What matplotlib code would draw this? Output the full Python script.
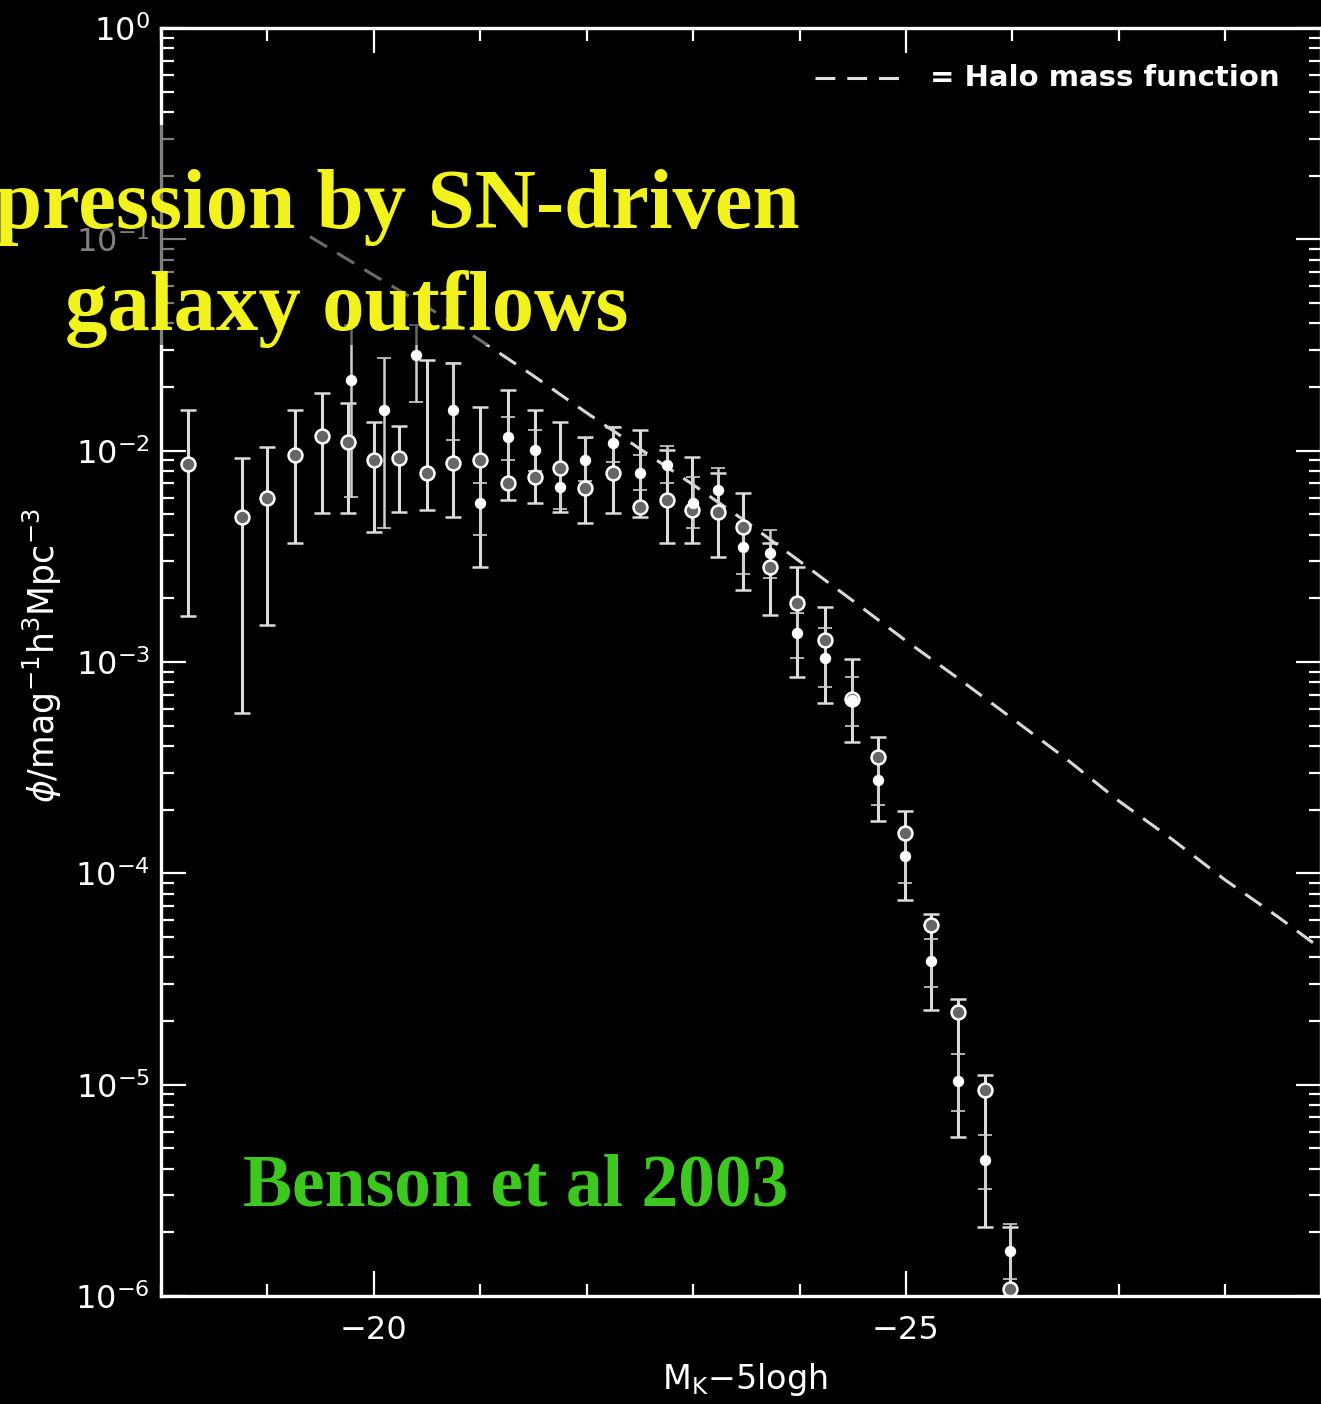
import numpy as np
import matplotlib
matplotlib.use('Agg')
import matplotlib.pyplot as plt
from matplotlib.patches import Rectangle
from matplotlib.ticker import LogLocator, MultipleLocator, NullFormatter

plt.rcParams['font.family'] = ['DejaVu Sans']
plt.rcParams['mathtext.fontset'] = 'dejavusans'

# halo mass function (dashed)
halo_mag = [-19.4, -20.0, -20.5, -21.0, -21.5, -22.0, -22.5, -23.0, -23.5, -24.0,
            -24.5, -25.0, -25.5, -26.0, -26.5, -27.0, -27.5, -28.0, -28.5, -28.9]
halo_phi = [0.103, 0.0676, 0.0479, 0.0333, 0.0226, 0.0151, 0.0102, 0.0069, 0.0046, 0.0030,
            0.00195, 0.00126, 0.00083, 0.00054, 0.00035, 0.00022, 0.000145, 0.000093, 0.000062, 0.000044]

# data set 1 (open circles)
mag1 = [-18.25, -18.76, -19.0, -19.26, -19.51, -19.76, -20.0, -20.24, -20.5, -20.74,
        -21.0, -21.26, -21.51, -21.75, -21.98, -22.25, -22.5, -22.75, -22.99, -23.23,
        -23.47, -23.72, -23.98, -24.24, -24.49, -24.74, -24.99, -25.24, -25.49, -25.74, -25.98]
phi1 = [8.65e-3, 4.85e-3, 5.97e-3, 9.53e-3, 1.17e-2, 1.10e-2, 9.03e-3, 9.23e-3, 7.83e-3, 8.73e-3,
        9.03e-3, 7.03e-3, 7.50e-3, 8.28e-3, 6.65e-3, 7.83e-3, 5.41e-3, 5.83e-3, 5.24e-3, 5.12e-3,
        4.35e-3, 2.81e-3, 1.90e-3, 1.27e-3, 6.68e-4, 3.55e-4, 1.55e-4, 5.69e-5, 2.20e-5, 9.42e-6, 1.08e-6]
hi1 = [1.56e-2, 9.23e-3, 1.04e-2, 1.56e-2, 1.87e-2, 1.68e-2, 1.36e-2, 1.31e-2, 2.69e-2, 2.60e-2,
       1.61e-2, 1.94e-2, 1.56e-2, 1.36e-2, 1.16e-2, 1.29e-2, 1.25e-2, 1.01e-2, 9.33e-3, 7.83e-3,
       6.30e-3, 3.66e-3, 2.81e-3, 1.82e-3, 1.03e-3, 4.42e-4, 1.97e-4, 6.41e-5, 2.54e-5, 1.11e-5, 2.12e-6]
lo1 = [1.65e-3, 5.73e-4, 1.50e-3, 3.66e-3, 5.07e-3, 5.07e-3, 4.12e-3, 5.12e-3, 5.24e-3, 4.85e-3,
       2.81e-3, 5.83e-3, 5.65e-3, 5.12e-3, 4.54e-3, 5.07e-3, 4.85e-3, 3.66e-3, 3.66e-3, 3.13e-3,
       2.19e-3, 1.67e-3, 8.49e-4, 6.38e-4, 4.18e-4, 1.77e-4, 7.46e-5, 2.25e-5, 5.65e-6, 2.12e-6, 5.0e-7]

# data set 2 (filled points)
mag2 = [-19.79, -20.10, -20.40, -20.74, -21.0, -21.26, -21.51, -21.75, -21.98, -22.25,
        -22.5, -22.75, -23.0, -23.23, -23.47, -23.72, -23.98, -24.24, -24.49, -24.74,
        -24.99, -25.24, -25.49, -25.74, -25.98]
phi2 = [2.16e-2, 1.56e-2, 2.83e-2, 1.56e-2, 5.65e-3, 1.16e-2, 1.01e-2, 6.73e-3, 9.03e-3, 1.09e-2,
        7.83e-3, 8.55e-3, 5.65e-3, 6.51e-3, 3.50e-3, 3.27e-3, 1.37e-3, 1.05e-3, 6.61e-4, 2.76e-4,
        1.21e-4, 3.84e-5, 1.04e-5, 4.40e-6, 1.63e-6]
hi2 = [3.93e-2, 2.74e-2, 3.93e-2, 2.60e-2, 7.0e-3, 1.45e-2, 1.25e-2, 8.5e-3, 1.15e-2, 1.3e-2,
       9.5e-3, 1.05e-2, 7.5e-3, 8.3e-3, 4.5e-3, 4.2e-3, 1.7e-3, 1.45e-3, 8.5e-4, 3.5e-4,
       1.55e-4, 4.9e-5, 1.4e-5, 5.8e-6, 2.2e-6]
lo2 = [6.03e-3, 4.30e-3, 1.70e-2, 1.12e-2, 4.0e-3, 9.0e-3, 8.0e-3, 5.3e-3, 7.2e-3, 8.8e-3,
       6.5e-3, 7.0e-3, 4.3e-3, 5.0e-3, 2.6e-3, 2.5e-3, 1.05e-3, 7.6e-4, 5.0e-4, 2.1e-4,
       9.0e-5, 2.9e-5, 7.5e-6, 3.2e-6, 1.2e-6]

W, H = 1321, 1404
fig = plt.figure(figsize=(W / 100, H / 100), dpi=100, facecolor='black')
ax = fig.add_axes([161 / W, 108 / H, (W - 161) / W, 1268 / H], facecolor='black')

ax.set_yscale('log')
ax.set_xlim(-18, -28.9)
ax.set_ylim(1e-6, 1)

ax.plot(halo_mag, halo_phi, color='#d8d8d8', lw=2.2, dashes=(6.5, 3.9))

p1 = np.array(phi1)
ax.errorbar(mag1, phi1, yerr=[p1 - np.array(lo1), np.array(hi1) - p1], fmt='o', ms=10,
            mfc='#666666', mec='white', mew=1.8, ecolor='#dcdcdc', elinewidth=2.2,
            capsize=6, capthick=2.2)
p2 = np.array(phi2)
ax.errorbar(mag2, phi2, yerr=[p2 - np.array(lo2), np.array(hi2) - p2], fmt='o', ms=7,
            mfc='white', mec='white', mew=1.2, ecolor='#cfcfcf', elinewidth=1.8,
            capsize=5, capthick=1.8)

for s in ax.spines.values():
    s.set_color('white')
    s.set_linewidth(2.4)

ax.xaxis.set_major_locator(MultipleLocator(5))
ax.xaxis.set_minor_locator(MultipleLocator(1))
ax.yaxis.set_major_locator(LogLocator(base=10, numticks=20))
ax.yaxis.set_minor_locator(LogLocator(base=10, subs=np.arange(2, 10), numticks=20))
ax.yaxis.set_minor_formatter(NullFormatter())
ax.tick_params(which='both', direction='in', top=True, right=True, colors='white',
               labelsize=23, width=1.6)
ax.tick_params(which='major', length=18)
ax.tick_params(which='minor', length=9)
ax.tick_params(axis='x', pad=14)
ax.tick_params(axis='y', pad=8)

fig.text(745 / W, 1 - 1380 / H, r'M$_{\rm K}$$-$5logh', color='white', fontsize=24,
         ha='center', va='center')
fig.text(42 / W, 1 - 655 / H, r'$\phi$/mag$^{-1}$h$^3$Mpc$^{-3}$', color='white',
         fontsize=25, rotation=90, ha='center', va='center')

# legend
fig.lines.append(plt.Line2D([815 / W, 900 / W], [1 - 78 / H, 1 - 78 / H],
                            transform=fig.transFigure, color='#e0e0e0', lw=2.2,
                            dashes=(6.5, 3.9)))
fig.text(930 / W, 1 - 78 / H, '= Halo mass function', color='white', fontsize=21,
         fontweight='bold', ha='left', va='center')

# dim band behind the overlay title
fig.add_artist(Rectangle((0, 1 - 345 / H), 830 / W, 220 / H, transform=fig.transFigure,
                         facecolor='black', edgecolor='none', alpha=0.5, zorder=5))

serif = ['Liberation Serif', 'DejaVu Serif']
fig.text(-5 / W, 1 - 228 / H, 'pression by SN-driven', color='#f2f21e', fontsize=61,
         fontweight='bold', family=serif, ha='left', va='baseline', zorder=6)
fig.text(65 / W, 1 - 330 / H, 'galaxy outflows', color='#f2f21e', fontsize=61,
         fontweight='bold', family=serif, ha='left', va='baseline', zorder=6)
fig.text(243 / W, 1 - 1205 / H, 'Benson et al 2003', color='#3cc81e', fontsize=53,
         fontweight='bold', family=serif, ha='left', va='baseline', zorder=6)

fig.savefig('out.png', dpi=100, facecolor='black')
